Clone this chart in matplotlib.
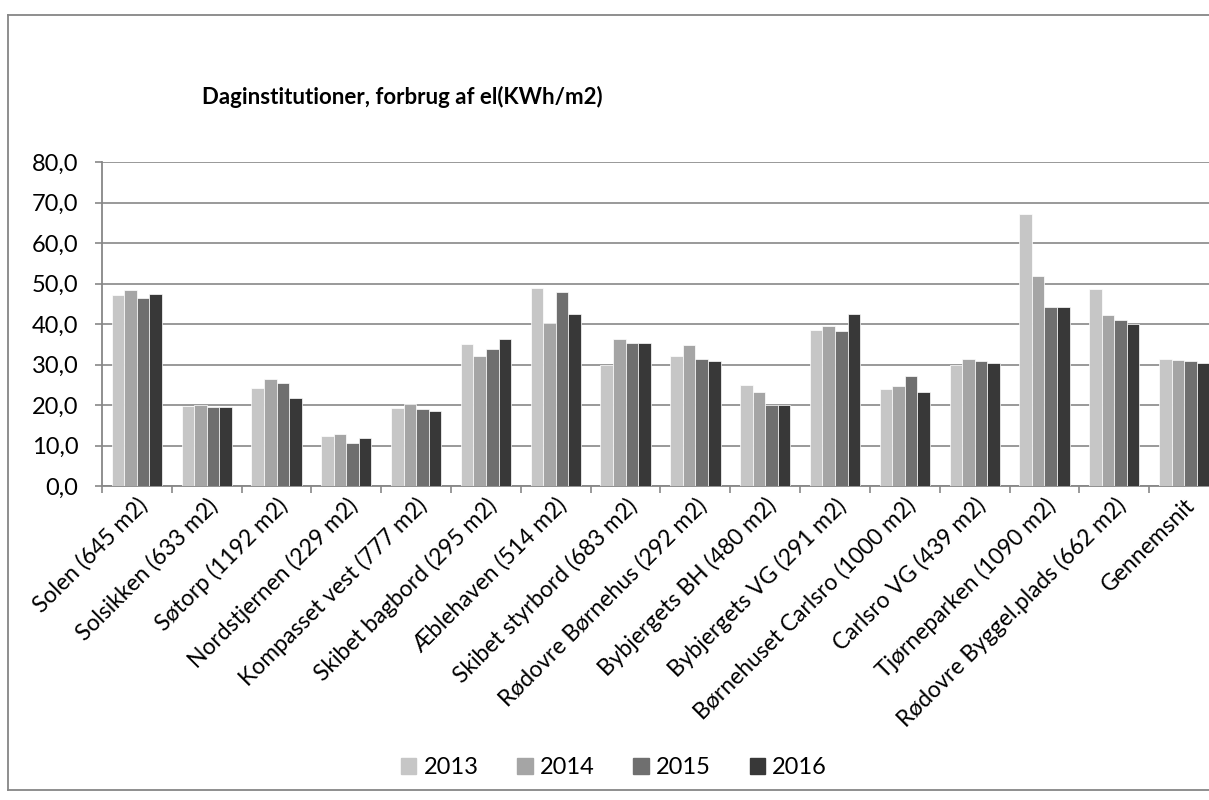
import matplotlib.pyplot as plt
from matplotlib.patches import Patch
from matplotlib.lines import Line2D
from matplotlib.ticker import FuncFormatter, FixedLocator
import numpy as np

plt.rcParams['font.family'] = ['Lato', 'DejaVu Sans']

institutions = ["Solen (645 m2)", "Solsikken (633 m2)", "Søtorp (1192 m2)",
                "Nordstjernen (229 m2)", "Kompasset vest (777 m2)",
                "Skibet bagbord (295 m2)", "Æblehaven (514 m2)",
                "Skibet styrbord (683 m2)", "Rødovre Børnehus (292 m2)",
                "Bybjergets BH (480 m2)", "Bybjergets VG (291 m2)",
                "Børnehuset Carlsro (1000 m2)", "Carlsro VG (439 m2)",
                "Tjørneparken (1090 m2)", "Rødovre Byggel.plads (662 m2)",
                "Gennemsnit"]

years = ["2013", "2014", "2015", "2016"]
el_2013 = [47.1, 19.8, 24.2, 12.3, 19.3, 35.1, 49.0, 29.9, 32.0, 24.9, 38.5, 24.0, 29.9, 67.2, 48.6, 31.4]
el_2014 = [48.3, 19.9, 26.3, 12.9, 20.3, 32.0, 40.2, 36.2, 34.7, 23.1, 39.5, 24.6, 31.3, 51.8, 42.2, 31.1]
el_2015 = [46.3, 19.4, 25.4, 10.7, 19.1, 33.8, 47.8, 35.3, 31.4, 20.0, 38.3, 27.2, 30.9, 44.1, 41.0, 30.8]
el_2016 = [47.4, 19.5, 21.7, 11.8, 18.4, 36.4, 42.4, 35.2, 30.8, 20.0, 42.5, 23.3, 30.4, 44.1, 40.1, 30.4]

colors = ["#c6c6c6", "#a5a5a5", "#6f6f6f", "#383838"]
grid_col = "#878787"

fig = plt.figure(figsize=(12.09, 8), dpi=100)
W, H = 1209, 800

# chart border (right edge is cropped in the original)
for xs, ys in [([8, 8], [15, 790]), ([8, 1215], [15, 15]), ([8, 1215], [790, 790])]:
    fig.add_artist(Line2D([x / W for x in xs], [1 - y / H for y in ys],
                          color="#868686", lw=1.3))

ax = fig.add_axes([102 / W, 1 - 486 / H, 1117 / W, 324 / H])

x = np.arange(len(institutions))
bw = 0.18
series = [el_2013, el_2014, el_2015, el_2016]
for i, vals in enumerate(series):
    ax.bar(x + (i - 1.5) * bw, vals, bw, color=colors[i], edgecolor="white",
           linewidth=0.5, label=years[i], zorder=3)

ax.set_xlim(-0.5, len(institutions) - 0.5)
ax.set_ylim(0, 80)
ax.set_yticks(np.arange(0, 81, 10))
ax.yaxis.set_major_formatter(FuncFormatter(lambda v, p: f"{v:.1f}".replace(".", ",")))
ax.grid(axis="y", color=grid_col, lw=1.2, zorder=0)

ax.set_xticks(x)
ax.set_xticklabels(institutions, rotation=45, ha="right", va="top",
                   rotation_mode="anchor", fontsize=16.5)
ax.tick_params(axis="x", which="major", length=0, pad=6)
ax.xaxis.set_minor_locator(FixedLocator(np.arange(-0.5, len(institutions), 1)))
ax.tick_params(axis="x", which="minor", length=5, width=1.2, color=grid_col)
ax.tick_params(axis="y", length=5, width=1.2, color=grid_col, labelsize=17, pad=12)

for s in ["top", "right"]:
    ax.spines[s].set_visible(False)
for s in ["left", "bottom"]:
    ax.spines[s].set_color(grid_col)
    ax.spines[s].set_linewidth(1.3)

fig.text(402 / W, 1 - 97 / H, "Daginstitutioner, forbrug af el(KWh/m2)",
         ha="center", va="center", fontsize=16, fontweight="bold")

handles = [Patch(color=c, label=y) for c, y in zip(colors, years)]
fig.legend(handles=handles, loc="center", bbox_to_anchor=(614 / W, 1 - 768 / H),
           ncol=4, frameon=False, fontsize=17, handlelength=0.65, handleheight=0.65,
           handletextpad=0.3, columnspacing=1.65)

fig.savefig("out.png", dpi=100)
